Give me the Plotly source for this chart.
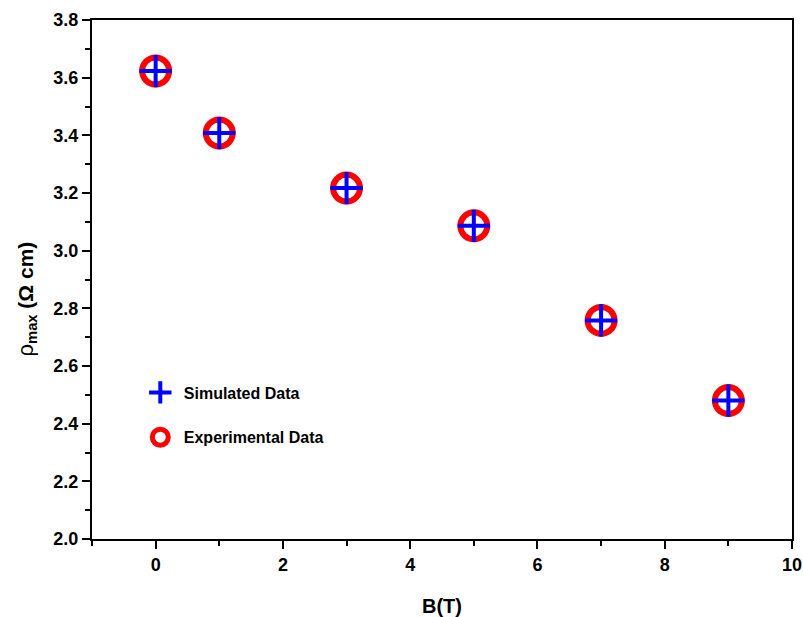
import plotly.graph_objects as go

b_field = [0, 1, 3, 5, 7, 9]
rho_experimental = [3.623, 3.408, 3.217, 3.086, 2.758, 2.480]
rho_simulated = [3.623, 3.408, 3.217, 3.086, 2.758, 2.480]
x_ticks = [0, 2, 4, 6, 8, 10]
y_ticks = [2.0, 2.2, 2.4, 2.6, 2.8, 3.0, 3.2, 3.4, 3.6, 3.8]

fig = go.Figure()
fig.add_trace(go.Scatter(
    x=b_field, y=rho_experimental, mode="markers", name="<b>Experimental Data</b>",
    legendgroup="exp", legendrank=2,
    marker=dict(symbol="circle-open", size=27, color="#ff0000",
                line=dict(width=6, color="#ff0000")),
))
fig.add_trace(go.Scatter(
    x=b_field, y=rho_simulated, mode="markers", name="<b>Simulated Data</b>",
    legendgroup="sim", legendrank=1,
    marker=dict(symbol="cross-thin-open", size=23, color="#0000ff",
                line=dict(width=4, color="#0000ff")),
))

fnt = "Arial, 'Liberation Sans', sans-serif"
fig.update_layout(
    width=803, height=617,
    margin=dict(l=92, r=11, t=20, b=78),
    plot_bgcolor="white", paper_bgcolor="white",
    font=dict(family=fnt, color="black"),
    legend=dict(x=0.064, y=0.315, xanchor="left", yanchor="top",
                bgcolor="rgba(0,0,0,0)", tracegroupgap=21, itemwidth=37,
                font=dict(size=16, family=fnt, color="black"),
                itemsizing="trace"),
    xaxis=dict(range=[-1, 10], tickmode="array", tickvals=x_ticks,
               ticktext=["<b>%d</b>" % v for v in x_ticks],
               ticks="outside", ticklen=8, tickwidth=2, tickcolor="black",
               showline=True, linecolor="black", linewidth=2, mirror=True,
               showgrid=False, zeroline=False, automargin=False,
               tickfont=dict(family=fnt, size=18, color="black"),
               minor=dict(tickvals=[-1, 1, 3, 5, 7, 9], ticks="outside", ticklen=5,
                          tickwidth=2, tickcolor="black", showgrid=False),
               title=dict(text="<b>B(T)</b>", font=dict(size=20, family=fnt), standoff=26)),
    yaxis=dict(range=[2.0, 3.8], tickmode="array", tickvals=y_ticks,
               ticktext=["<b>%.1f</b>" % v for v in y_ticks],
               ticks="outside", ticklen=8, tickwidth=2, tickcolor="black",
               showline=True, linecolor="black", linewidth=2, mirror=True,
               showgrid=False, zeroline=False, automargin=False,
               tickfont=dict(family=fnt, size=18, color="black"),
               minor=dict(tickvals=[2.1, 2.3, 2.5, 2.7, 2.9, 3.1, 3.3, 3.5, 3.7], ticks="outside",
                          ticklen=5, tickwidth=2, tickcolor="black", showgrid=False)),
    annotations=[dict(text="<span style='font-size:22px'>ρ</span><sub><b>max</b></sub><b> (Ω cm)</b>",
                      xref="paper", yref="paper", x=-0.094, y=0.462, textangle=-90,
                      showarrow=False, xanchor="center", yanchor="middle",
                      font=dict(size=21, family=fnt, color="black"))],
)
fig.write_html("out.html")
